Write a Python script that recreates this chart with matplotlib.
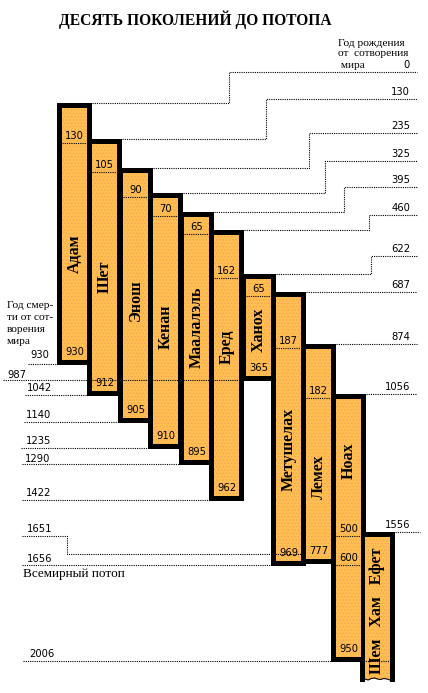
import numpy as np
import matplotlib
matplotlib.use('Agg')
import matplotlib.pyplot as plt
from matplotlib.patches import Rectangle, Polygon

# ---------------- data ----------------
names = ['Адам', 'Шет', 'Энош', 'Кенан', 'Маалалэль', 'Еред', 'Ханох',
         'Метушелах', 'Лемех', 'Ноах', 'Шем   Хам   Ефет']
birth_years = [0, 130, 235, 325, 395, 460, 622, 687, 874, 1056, 1556]
beget_ages = [130, 105, 90, 70, 65, 162, 65, 187, 182, 500]
death_ages = [930, 912, 905, 910, 895, 962, 365, 969, 777, 950]
flood_year = 1656
noah_age_at_flood = 600
title = 'ДЕСЯТЬ ПОКОЛЕНИЙ ДО ПОТОПА'
birth_caption = ['Год рождения', 'от  сотворения', ' мира']
death_caption = ['Год смер-', 'ти от сот-', 'ворения', 'мира']
flood_caption = 'Всемирный потоп'

death_years = [b + a for b, a in zip(birth_years, death_ages)]

# ---------------- layout (pixels) ----------------
W, H = 428, 693
Y0, K = 103.0, 0.2757          # pixel row of year 0, pixels per year
BAR_LEFT = [57, 87, 118, 148, 179, 209, 241, 271, 301, 331, 360]
BW, BD = 35, 5                  # outer bar width, border width
BOT = 6                         # bottom offset of bar outline
NAME_Y = [254, 277, 300, 327, 327, 347, 330, 449, 477, 461, 611]
RIGHT_LINE_Y = [72, 99, 133, 161, 187, 215, 256]
RIGHT_STEP_X = [229, 266, 309, 325, 344, 369, 371]
RIGHT_END = 417
LEFT_TEXT_X = [30, 7, 27, 26, 26, 25, 26, 27, 27, 29]
LEFT_LINE_X = [28, 3, 25, 24, 21, 22, 22, 22, 22, 23]
LEFT_TEXT_DY = [-9, -5, -7, -7, -7, -5, -7, -7, -6, -7]
SHEM_END_PX = 682

ORANGE = '#FFBF50'
HATCH = '#F7A25A'
SERIF = 'Liberation Serif'
NUMF = 'DejaVu Sans'
DOT = (0, (1, 1))
plt.rcParams['hatch.linewidth'] = 0.6

fig = plt.figure(figsize=(W / 100, H / 100), dpi=100)
ax = fig.add_axes([0, 0, 1, 1])


def yr(px):
    return (px - Y0) / K


def off(px):
    return px / K


ax.set_xlim(0, W)
ax.set_ylim(yr(H), yr(0))
ax.axis('off')


def dline(xs, ys, z=6):
    ax.plot(xs, ys, color='black', lw=0.8, ls=DOT, zorder=z,
            solid_capstyle='butt', dash_capstyle='butt')


def num(x, y, s, ha='center'):
    ax.text(x, y, s, ha=ha, va='center', fontsize=7.2, family=NUMF, zorder=7)


# ---------------- bars ----------------
for i, b in enumerate(birth_years):
    L = BAR_LEFT[i]
    if i < len(death_years):
        bottom = death_years[i] + off(BOT)
        ax.add_patch(Rectangle((L, b), BW, bottom - b, fc='black', lw=0, zorder=2))
        ax.add_patch(Rectangle((L + BD, b + off(BD)), BW - 2 * BD,
                               bottom - b - 2 * off(BD), fc=ORANGE, ec=HATCH,
                               lw=0, hatch='.....', zorder=3))
    else:
        end = yr(SHEM_END_PX)
        ax.add_patch(Rectangle((L, b), BD, end - b, fc='black', lw=0, zorder=2))
        ax.add_patch(Rectangle((L + BW - BD, b), BD, end - b, fc='black', lw=0, zorder=2))
        ax.add_patch(Rectangle((L, b), BW, off(BD), fc='black', lw=0, zorder=2))
        wx = np.linspace(L + BD, L + BW - BD, 9)
        wy = end + off(np.array([-3, -2, -3.5, -4, -3, -2.5, -3.5, -3, -2]))
        poly = [(L + BD, b + off(BD))] + [(L + BW - BD, b + off(BD))] + \
            list(zip(wx[::-1], wy[::-1]))
        ax.add_patch(Polygon(poly, closed=True, fc=ORANGE, ec=HATCH, lw=0,
                             hatch='.....', zorder=3))
        ax.plot(wx, wy, color='black', lw=0.8, zorder=4)
    ax.text(L + BW / 2, yr(NAME_Y[i]), names[i], rotation=90, ha='center',
            va='center', fontsize=11.5, fontweight='bold', family=SERIF, zorder=7)

# begetting lines inside bars
for i, a in enumerate(beget_ages):
    L = BAR_LEFT[i]
    y = birth_years[i] + a + off(4)
    dline([L + BD, L + BW - BD], [y, y])
    num(L + BW / 2, y - off(7), str(a))

# death age labels
for i, a in enumerate(death_ages):
    L = BAR_LEFT[i]
    y = death_years[i] + off(BOT - BD - 8)
    num(L + BW / 2, y, str(a))

# Noah at the flood
iN = names.index('Ноах')
Ln = BAR_LEFT[iN]
yf = flood_year + off(BOT - 1)
dline([Ln + BD, Ln + BW - BD], [yf, yf])
num(Ln + BW / 2, yf - off(7), str(noah_age_at_flood))

# ---------------- right birth-year labels ----------------
for i, b in enumerate(birth_years):
    L = BAR_LEFT[i]
    if i < len(RIGHT_LINE_Y):
        ly = yr(RIGHT_LINE_Y[i])
        sx = RIGHT_STEP_X[i]
        dline([L + BW, sx, sx, RIGHT_END], [b, b, ly, ly])
    else:
        ly = b
        dline([L + BW, RIGHT_END + (3 if i == len(birth_years) - 1 else 0)], [ly, ly])
    num(410, ly - off(7), str(b), ha='right')

# ---------------- left death-year labels ----------------
order = sorted(range(len(death_years)), key=lambda k: death_years[k])
for j, k in enumerate(order):
    d = death_years[k]
    L = BAR_LEFT[k]
    yl = d + off(BOT - 1)
    if names[k] == 'Лемех':
        ylab = yr(536)
        sx = 67
        ystep = yl - off(9)
        dline([LEFT_LINE_X[j], sx, sx, L], [ylab, ylab, ystep, ystep])
        num(LEFT_TEXT_X[j], ylab + off(LEFT_TEXT_DY[j]), str(d), ha='left')
        continue
    xe = L
    if names[k] == 'Ноах':
        xe = BAR_LEFT[-1] + BW - BD
    dline([LEFT_LINE_X[j], xe], [yl, yl])
    num(LEFT_TEXT_X[j], yl + off(LEFT_TEXT_DY[j]), str(d), ha='left')
    if d == flood_year:
        ax.text(23, yl + off(9), flood_caption, ha='left', va='center',
                fontsize=9.5, family=SERIF, zorder=7)

# ---------------- captions ----------------
ax.text(195, yr(20), title, ha='center', va='center', fontsize=11.2,
        fontweight='bold', family=SERIF)
for n, s in enumerate(birth_caption):
    ax.text(338, yr(43 + 11 * n), s, ha='left', va='center', fontsize=8.2,
            family=SERIF)
for n, s in enumerate(death_caption):
    ax.text(7, yr(305 + 12 * n), s, ha='left', va='center', fontsize=8.2,
            family=SERIF)

fig.savefig('out.png', dpi=100)
